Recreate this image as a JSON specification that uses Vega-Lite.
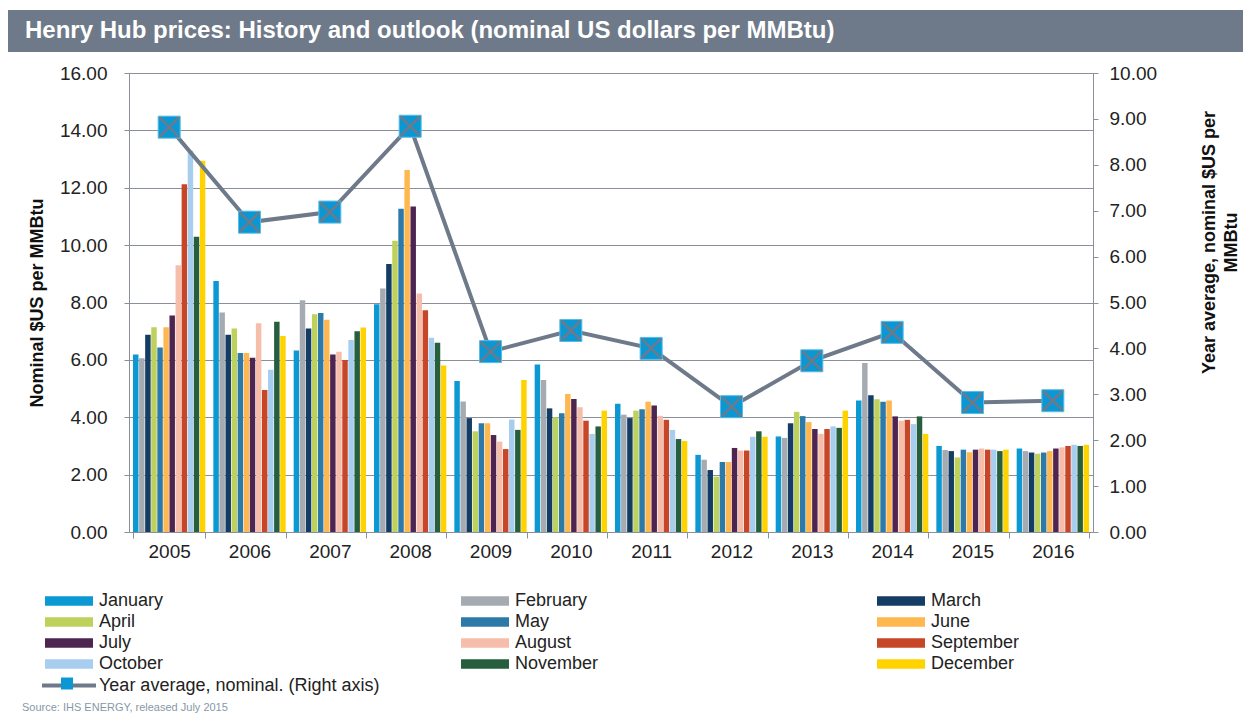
{
  "$schema": "https://vega.github.io/schema/vega-lite/v6.json",
  "padding": {"left": 8, "top": 10, "right": 0, "bottom": 4},
  "background": "white",
  "config": {"font": "Liberation Sans", "view": {"stroke": null}},
  "title": {"text": "Source: IHS ENERGY, released July 2015", "orient": "bottom", "anchor": "start", "fontSize": 11, "fontWeight": "normal", "color": "#8797a8", "dx": 14, "offset": 7},
  "spacing": 12,
  "vconcat": [
    {
      "width": 1235, "height": 42,
      "view": {"fill": "#6e7a89", "stroke": null},
      "data": {"values": [{"t": "Henry Hub prices: History and outlook (nominal US dollars per MMBtu)"}]},
      "mark": {"type": "text", "align": "left", "baseline": "middle", "dx": 17, "fontSize": 24, "fontWeight": "bold", "color": "white"},
      "encoding": {
        "text": {"field": "t"},
        "x": {"datum": 0, "type": "quantitative", "scale": {"domain": [0, 1]}, "axis": null},
        "y": {"datum": 0.5, "type": "quantitative", "scale": {"domain": [0, 1]}, "axis": null}
      }
    },
    {
      "spacing": 0,
      "hconcat": [
        {"width": 20, "height": 459, "data": {"values": [{}]}, "mark": {"type": "text", "text": ""}, "encoding": {}},
        {
          "width": 964, "height": 459,
          "layer": [
            {
              "data": {"values": [
                {"year":"2005","month":"January","price":6.19},{"year":"2005","month":"February","price":6.06},{"year":"2005","month":"March","price":6.88},{"year":"2005","month":"April","price":7.14},{"year":"2005","month":"May","price":6.43},{"year":"2005","month":"June","price":7.14},{"year":"2005","month":"July","price":7.55},{"year":"2005","month":"August","price":9.30},{"year":"2005","month":"September","price":12.12},{"year":"2005","month":"October","price":13.29},{"year":"2005","month":"November","price":10.29},{"year":"2005","month":"December","price":12.94},
                {"year":"2006","month":"January","price":8.75},{"year":"2006","month":"February","price":7.65},{"year":"2006","month":"March","price":6.88},{"year":"2006","month":"April","price":7.09},{"year":"2006","month":"May","price":6.24},{"year":"2006","month":"June","price":6.24},{"year":"2006","month":"July","price":6.07},{"year":"2006","month":"August","price":7.28},{"year":"2006","month":"September","price":4.95},{"year":"2006","month":"October","price":5.66},{"year":"2006","month":"November","price":7.33},{"year":"2006","month":"December","price":6.83},
                {"year":"2007","month":"January","price":6.33},{"year":"2007","month":"February","price":8.08},{"year":"2007","month":"March","price":7.09},{"year":"2007","month":"April","price":7.59},{"year":"2007","month":"May","price":7.63},{"year":"2007","month":"June","price":7.40},{"year":"2007","month":"July","price":6.19},{"year":"2007","month":"August","price":6.28},{"year":"2007","month":"September","price":6.00},{"year":"2007","month":"October","price":6.69},{"year":"2007","month":"November","price":7.00},{"year":"2007","month":"December","price":7.13},
                {"year":"2008","month":"January","price":7.94},{"year":"2008","month":"February","price":8.49},{"year":"2008","month":"March","price":9.34},{"year":"2008","month":"April","price":10.15},{"year":"2008","month":"May","price":11.27},{"year":"2008","month":"June","price":12.62},{"year":"2008","month":"July","price":11.35},{"year":"2008","month":"August","price":8.31},{"year":"2008","month":"September","price":7.73},{"year":"2008","month":"October","price":6.77},{"year":"2008","month":"November","price":6.60},{"year":"2008","month":"December","price":5.80},
                {"year":"2009","month":"January","price":5.26},{"year":"2009","month":"February","price":4.55},{"year":"2009","month":"March","price":3.97},{"year":"2009","month":"April","price":3.51},{"year":"2009","month":"May","price":3.79},{"year":"2009","month":"June","price":3.79},{"year":"2009","month":"July","price":3.38},{"year":"2009","month":"August","price":3.15},{"year":"2009","month":"September","price":2.89},{"year":"2009","month":"October","price":3.92},{"year":"2009","month":"November","price":3.56},{"year":"2009","month":"December","price":5.30},
                {"year":"2010","month":"January","price":5.84},{"year":"2010","month":"February","price":5.30},{"year":"2010","month":"March","price":4.31},{"year":"2010","month":"April","price":4.00},{"year":"2010","month":"May","price":4.14},{"year":"2010","month":"June","price":4.81},{"year":"2010","month":"July","price":4.64},{"year":"2010","month":"August","price":4.35},{"year":"2010","month":"September","price":3.88},{"year":"2010","month":"October","price":3.42},{"year":"2010","month":"November","price":3.68},{"year":"2010","month":"December","price":4.23},
                {"year":"2011","month":"January","price":4.47},{"year":"2011","month":"February","price":4.09},{"year":"2011","month":"March","price":3.97},{"year":"2011","month":"April","price":4.23},{"year":"2011","month":"May","price":4.28},{"year":"2011","month":"June","price":4.54},{"year":"2011","month":"July","price":4.41},{"year":"2011","month":"August","price":4.05},{"year":"2011","month":"September","price":3.91},{"year":"2011","month":"October","price":3.56},{"year":"2011","month":"November","price":3.24},{"year":"2011","month":"December","price":3.17},
                {"year":"2012","month":"January","price":2.69},{"year":"2012","month":"February","price":2.52},{"year":"2012","month":"March","price":2.16},{"year":"2012","month":"April","price":1.93},{"year":"2012","month":"May","price":2.44},{"year":"2012","month":"June","price":2.44},{"year":"2012","month":"July","price":2.93},{"year":"2012","month":"August","price":2.84},{"year":"2012","month":"September","price":2.84},{"year":"2012","month":"October","price":3.32},{"year":"2012","month":"November","price":3.51},{"year":"2012","month":"December","price":3.32},
                {"year":"2013","month":"January","price":3.33},{"year":"2013","month":"February","price":3.28},{"year":"2013","month":"March","price":3.79},{"year":"2013","month":"April","price":4.19},{"year":"2013","month":"May","price":4.04},{"year":"2013","month":"June","price":3.83},{"year":"2013","month":"July","price":3.59},{"year":"2013","month":"August","price":3.42},{"year":"2013","month":"September","price":3.59},{"year":"2013","month":"October","price":3.68},{"year":"2013","month":"November","price":3.63},{"year":"2013","month":"December","price":4.23},
                {"year":"2014","month":"January","price":4.58},{"year":"2014","month":"February","price":5.89},{"year":"2014","month":"March","price":4.77},{"year":"2014","month":"April","price":4.63},{"year":"2014","month":"May","price":4.54},{"year":"2014","month":"June","price":4.58},{"year":"2014","month":"July","price":4.03},{"year":"2014","month":"August","price":3.88},{"year":"2014","month":"September","price":3.91},{"year":"2014","month":"October","price":3.76},{"year":"2014","month":"November","price":4.03},{"year":"2014","month":"December","price":3.42},
                {"year":"2015","month":"January","price":3.00},{"year":"2015","month":"February","price":2.86},{"year":"2015","month":"March","price":2.82},{"year":"2015","month":"April","price":2.60},{"year":"2015","month":"May","price":2.87},{"year":"2015","month":"June","price":2.78},{"year":"2015","month":"July","price":2.87},{"year":"2015","month":"August","price":2.91},{"year":"2015","month":"September","price":2.87},{"year":"2015","month":"October","price":2.87},{"year":"2015","month":"November","price":2.82},{"year":"2015","month":"December","price":2.87},
                {"year":"2016","month":"January","price":2.91},{"year":"2016","month":"February","price":2.82},{"year":"2016","month":"March","price":2.77},{"year":"2016","month":"April","price":2.73},{"year":"2016","month":"May","price":2.77},{"year":"2016","month":"June","price":2.82},{"year":"2016","month":"July","price":2.91},{"year":"2016","month":"August","price":2.95},{"year":"2016","month":"September","price":3.00},{"year":"2016","month":"October","price":3.04},{"year":"2016","month":"November","price":3.00},{"year":"2016","month":"December","price":3.04}
              ]},
              "mark": {"type": "bar"},
              "encoding": {
                "x": {"field": "year", "type": "nominal", "scale": {"paddingInner": 0.1, "paddingOuter": 0.05},
                      "axis": {"title": null, "labelAngle": 0, "labelFontSize": 19, "labelColor": "#222", "tickBand": "extent", "tickSize": 6, "labelPadding": 4, "domainColor": "#8a9099", "tickColor": "#8a9099", "grid": false}},
                "xOffset": {"field": "month", "type": "nominal", "sort": ["January","February","March","April","May","June","July","August","September","October","November","December"], "scale": {"paddingInner": 0.1}},
                "y": {"field": "price", "type": "quantitative", "scale": {"domain": [0, 16]},
                      "axis": {"title": "Nominal $US  per MMBtu", "titleFontSize": 18, "titleFontWeight": "bold", "titleColor": "#111", "values": [0,2,4,6,8,10,12,14,16], "format": ".2f", "labelFontSize": 19, "labelColor": "#222", "labelPadding": 17, "tickSize": 5, "tickColor": "#8a9099", "domainColor": "#8a9099", "grid": true, "gridColor": "#8a9099", "gridOpacity": 1, "titlePadding": 13}},
                "color": {"field": "month", "type": "nominal",
                  "scale": {"domain": ["January","February","March","April","May","June","July","August","September","October","November","December"],
                            "range": ["#0b98d3","#a5abb0","#143c64","#bdd15c","#2d7aa9","#ffb74f","#4d2550","#f7bdab","#c84628","#a7cdef","#275e3e","#ffd300"]},
                  "legend": {"orient": "none", "legendX": 37, "legendY": 579, "columns": 3, "direction": "horizontal", "title": null, "symbolType": "M-1,-0.4H3V0.4H-1Z", "symbolSize": 576, "symbolStrokeWidth": 0, "symbolOpacity": 1, "labelFontSize": 18, "labelColor": "#222", "labelOffset": 30, "columnPadding": 273, "rowPadding": 0, "gridAlign": "all", "labelLimit": 300}}
              }
            },
            {
              "data": {"values": [
                {"year":"2005","avg":8.82},{"year":"2006","avg":6.75},{"year":"2007","avg":6.97},{"year":"2008","avg":8.84},{"year":"2009","avg":3.93},{"year":"2010","avg":4.39},{"year":"2011","avg":4.00},{"year":"2012","avg":2.73},{"year":"2013","avg":3.73},{"year":"2014","avg":4.35},{"year":"2015","avg":2.82},{"year":"2016","avg":2.86}
              ]},
              "layer": [
                {
                  "mark": {"type": "line", "strokeWidth": 4},
                  "encoding": {
                    "x": {"field": "year", "type": "nominal"},
                    "y": {"field": "avg", "type": "quantitative", "scale": {"domain": [0, 10]},
                          "axis": {"orient": "right", "title": ["Year average, nominal $US per", "MMBtu"], "titleAngle": 270, "titleY": 169, "titleLineHeight": 22, "values": [0,1,2,3,4,5,6,7,8,9,10], "format": ".2f", "grid": false, "labelFontSize": 19, "labelColor": "#222", "labelPadding": 11, "tickSize": 5, "tickColor": "#8a9099", "domainColor": "#8a9099", "titleFontSize": 18, "titleFontWeight": "bold", "titleColor": "#111", "titlePadding": 40}},
                    "stroke": {"datum": "Year average, nominal. (Right axis)", "scale": {"range": ["#6e7a89"]},
                      "legend": {"orient": "none", "legendX": 32, "legendY": 660, "title": null, "symbolType": "M-1,0H3", "symbolSize": 729, "symbolStrokeWidth": 4, "labelFontSize": 18, "labelColor": "#222", "labelOffset": 28, "labelLimit": 400}}
                  }
                },
                {
                  "mark": {"type": "point", "shape": "square", "size": 484, "filled": true, "opacity": 1, "stroke": "#5bbbe4", "strokeWidth": 1},
                  "encoding": {
                    "x": {"field": "year", "type": "nominal"},
                    "y": {"field": "avg", "type": "quantitative"},
                    "fill": {"datum": "marker", "scale": {"range": ["#0b97d4"]},
                      "legend": {"orient": "none", "legendX": 32, "legendY": 660, "title": null, "symbolType": "M0.556,-0.444H1.444V0.444H0.556Z", "symbolSize": 729, "symbolStrokeWidth": 0, "symbolOpacity": 1, "labelFontSize": 18, "labelExpr": "''", "labelOffset": 28}}
                  }
                },
                {
                  "mark": {"type": "point", "shape": "M-1,-1L1,1M-1,1L1,-1", "size": 380, "filled": false, "opacity": 1, "stroke": "#6e7a89", "strokeWidth": 2.5},
                  "encoding": {
                    "x": {"field": "year", "type": "nominal"},
                    "y": {"field": "avg", "type": "quantitative"}
                  }
                }
              ]
            }
          ],
          "resolve": {"scale": {"y": "independent"}}
        }
      ]
    }
  ]
}
